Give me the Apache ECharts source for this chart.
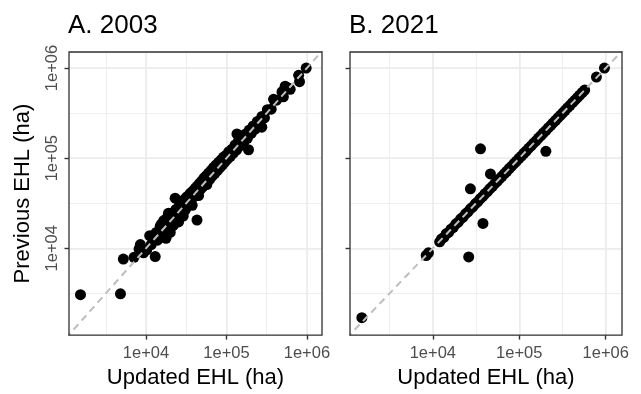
<!DOCTYPE html>
<html>
<head>
<meta charset="utf-8">
<script src="https://cdn.jsdelivr.net/npm/echarts@6/dist/echarts.min.js"></script>
<style>
html, body { margin: 0; padding: 0; background: #fff; }
#chart { width: 641px; height: 394px; }
</style>
</head>
<body>
<div id="chart"></div>
<script>
// A. 2003 : updated vs previous EHL (ha)
var updatedA = [1530, 4810, 5220, 7080, 8190, 8500, 9300, 10200, 11100, 11600, 12200, 13000, 13400, 13900, 14500,
  15000, 15500, 16000, 16600, 17200, 17700, 18300, 18800, 19400, 20000, 20500, 21100, 21700, 22300, 23000,
  23500, 24100, 24700, 25400, 26000, 26800, 27500, 28300, 29000, 29800, 30600, 31500, 32400, 33300, 34300,
  35300, 36400, 37500, 38600, 39800, 41000, 42200, 43000, 43500, 44900, 46300, 47800, 49400, 51000, 52700,
  54500, 56300, 58200, 60200, 62300, 64500, 66800, 69200, 71700, 74300, 77000, 79800, 82700, 85700, 88800,
  92000, 95400, 99000, 103000, 107000, 112000, 117000, 122000, 128000, 135000, 134000, 141000, 148000, 156000, 164000,
  173000, 182000, 188000, 192000, 203000, 215000, 228000, 242000, 257000, 275000, 276000, 297000, 322000, 360000, 385000,
  420000, 490000, 510000, 537000, 590000, 620000, 790000, 810000, 980000,
  19000, 25000, 31000, 37000, 45000, 57000, 68000, 150000];
var previousA = [3060, 3130, 7590, 7950, 9800, 11000, 8900, 9600, 13800, 11000, 12900, 8100, 15000, 12300, 13500,
  17600, 18500, 14200, 20300, 15500, 12900, 21800, 17000, 23000, 15000, 19800, 24500, 17800, 22600, 36000,
  27000, 21600, 25400, 19600, 29500, 24700, 33500, 27000, 22800, 31500, 26600, 36500, 30400, 38000, 32500,
  40500, 34200, 30000, 43500, 37800, 46500, 40000, 20600, 49000, 43000, 52500, 45500, 56000, 48500, 60500,
  51500, 64000, 55000, 68500, 58500, 73000, 63500, 79000, 68000, 84000, 73000, 90000, 78500, 96000, 84000,
  103000, 90500, 108000, 97500, 118000, 105000, 126000, 114000, 140000, 186000, 124000, 156000, 137000, 170000, 152000,
  186000, 166000, 124000, 205000, 188000, 228000, 210000, 256000, 236000, 221000, 290000, 280000, 345000, 350000, 450000,
  440000, 545000, 480000, 630000, 600000, 580000, 830000, 705000, 1000000,
  24500, 21500, 27500, 42000, 38500, 51000, 75000, 162000];

// B. 2021
var updatedB = [1510, 8380, 8900, 26000, 35600, 27200, 38000, 46400, 203000, 780000, 966000,
  12000, 12600, 13400, 14300, 15200, 16200, 17300, 18500, 19700, 21000, 22400, 23900, 25500, 27200, 29000,
  31000, 33000, 35200, 37600, 40100, 42800, 45600, 48700, 52000, 55400, 59100, 63100, 67300, 71800, 76600,
  81700, 87200, 93000, 99200, 106000, 113000, 120500, 128600, 137200, 146400, 156200, 166600, 177800, 189700, 202400,
  216000, 230400, 245800, 262300, 279800, 298500, 318500, 339800, 362500, 386800, 412700, 440300, 469800, 501200, 534800,
  570600];
var previousB = [1700, 8320, 8900, 8030, 127000, 45700, 18900, 66800, 119000, 795000, 1000000,
  11800, 12700, 13200, 14500, 15000, 16300, 17100, 18700, 19500, 21200, 22200, 24100, 25300, 27400, 28800,
  31200, 32800, 35400, 37400, 40300, 42600, 45800, 48500, 52300, 55200, 59300, 62900, 67500, 71600, 76800,
  81500, 87400, 92800, 99500, 105500, 113400, 120100, 129000, 136800, 146800, 155800, 167000, 177400, 190200, 202000,
  216500, 230000, 246300, 261800, 280300, 298000, 319000, 339300, 363000, 386300, 413200, 439800, 470300, 500700, 535300,
  570100];

var refLine = [1000, 2000000];
var tickValues = [10000, 100000, 1000000];
var tickLabels = ['1e+04', '1e+05', '1e+06'];
var panelTitles = ['A. 2003', 'B. 2021'];

var FONT = '"Liberation Sans", Arial, sans-serif';
var X_RANGE = [3.042, 6.188];
var Y_RANGE = [3.037, 6.178];

function toLog(xs, ys) {
  var out = [];
  for (var i = 0; i < xs.length; i++) {
    out.push([Math.log10(xs[i]), Math.log10(ys[i])]);
  }
  return out;
}

var logTicks = tickValues.map(function (v) { return Math.log10(v); });

function fmt(v) {
  for (var i = 0; i < logTicks.length; i++) {
    if (Math.abs(v - logTicks[i]) < 1e-6) return tickLabels[i];
  }
  return '';
}

function majorAxis(dim, gridIndex, range, showLabels, name) {
  var ax = {
    type: 'value',
    gridIndex: gridIndex,
    position: dim === 'x' ? 'bottom' : 'left',
    min: range[0],
    max: range[1],
    minInterval: 1,
    maxInterval: 1,
    axisLine: { show: false },
    axisTick: {
      show: true, length: 4.5, customValues: logTicks,
      lineStyle: { color: '#333333', width: 1.4 }
    },
    axisLabel: {
      show: showLabels, customValues: logTicks, formatter: fmt,
      color: '#4d4d4d', fontSize: 16.5, fontFamily: FONT,
      margin: dim === 'x' ? 10 : 8,
      rotate: dim === 'x' ? 0 : 90
    },
    splitLine: { show: true, lineStyle: { color: '#ebebeb', width: 1.5 } }
  };
  if (name) {
    ax.name = name;
    ax.nameLocation = 'middle';
    ax.nameGap = dim === 'x' ? 30 : 35;
    ax.nameTextStyle = { fontSize: 22, color: '#000', fontFamily: FONT };
  }
  return ax;
}

function minorAxis(dim, gridIndex, range) {
  return {
    type: 'value',
    gridIndex: gridIndex,
    position: dim === 'x' ? 'top' : 'right',
    min: range[0],
    max: range[1],
    minInterval: 0.5,
    maxInterval: 0.5,
    axisLine: { show: false },
    axisTick: { show: false },
    axisLabel: { show: false },
    splitLine: { show: true, lineStyle: { color: '#ebebeb', width: 0.8 } }
  };
}

var chart = echarts.init(document.getElementById('chart'), null, { renderer: 'canvas' });

var refData = refLine.map(function (v) { return [Math.log10(v), Math.log10(v)]; });

var option = {
  animation: false,
  backgroundColor: '#fff',
  title: [
    { text: panelTitles[0], left: 68, top: 13, padding: 0,
      textStyle: { fontSize: 26, fontWeight: 'normal', color: '#000', fontFamily: FONT } },
    { text: panelTitles[1], left: 349, top: 13, padding: 0,
      textStyle: { fontSize: 26, fontWeight: 'normal', color: '#000', fontFamily: FONT } }
  ],
  grid: [
    { left: 69, top: 52, width: 253, height: 287, show: true, z: 10,
      backgroundColor: 'transparent', borderColor: '#333333', borderWidth: 1.3 },
    { left: 350, top: 52, width: 272, height: 287, show: true, z: 10,
      backgroundColor: 'transparent', borderColor: '#333333', borderWidth: 1.3 }
  ],
  xAxis: [
    majorAxis('x', 0, X_RANGE, true, 'Updated EHL (ha)'),
    minorAxis('x', 0, X_RANGE),
    majorAxis('x', 1, X_RANGE, true, 'Updated EHL (ha)'),
    minorAxis('x', 1, X_RANGE)
  ],
  yAxis: [
    majorAxis('y', 0, Y_RANGE, true, 'Previous EHL (ha)'),
    minorAxis('y', 0, Y_RANGE),
    majorAxis('y', 1, Y_RANGE, false, null),
    minorAxis('y', 1, Y_RANGE)
  ],
  series: [
    { type: 'scatter', xAxisIndex: 0, yAxisIndex: 0, data: toLog(updatedA, previousA),
      symbol: 'circle', symbolSize: 11, itemStyle: { color: '#000', opacity: 1 }, z: 2 },
    { type: 'line', xAxisIndex: 0, yAxisIndex: 0, data: refData, symbol: 'none', silent: true,
      clip: true, lineStyle: { color: '#bebebe', width: 2, type: [7, 5] }, z: 3 },
    { type: 'scatter', xAxisIndex: 2, yAxisIndex: 2, data: toLog(updatedB, previousB),
      symbol: 'circle', symbolSize: 11, itemStyle: { color: '#000', opacity: 1 }, z: 2 },
    { type: 'line', xAxisIndex: 2, yAxisIndex: 2, data: refData, symbol: 'none', silent: true,
      clip: true, lineStyle: { color: '#bebebe', width: 2, type: [7, 5] }, z: 3 }
  ]
};

chart.setOption(option);
</script>
</body>
</html>
